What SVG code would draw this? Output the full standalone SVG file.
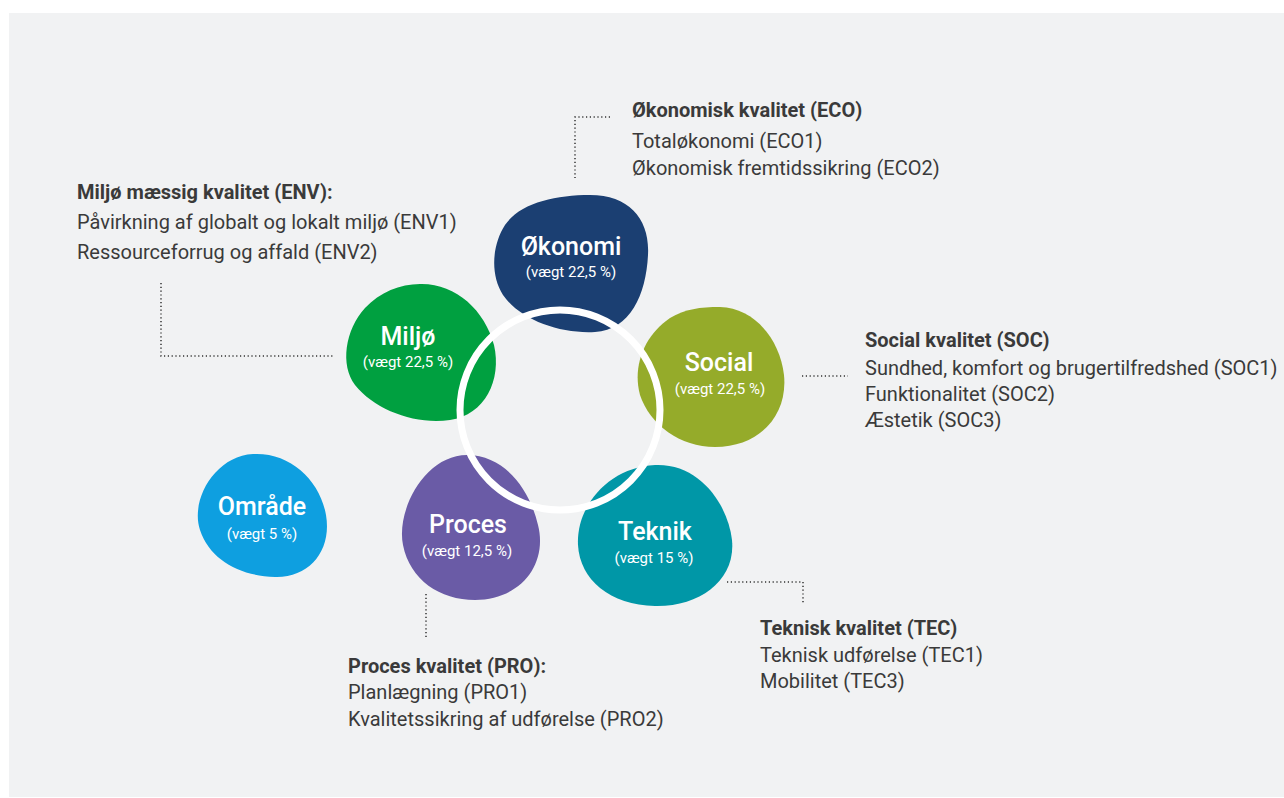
<svg xmlns="http://www.w3.org/2000/svg" width="1284" height="798" viewBox="0 0 1284 798">
<style>
.lbl{font-family:Roboto,"Noto Sans",sans-serif;fill:#ffffff;text-anchor:middle}
.big{font-size:25px;font-weight:500}
.sm{font-size:15px}
.txt{font-family:Roboto,"Noto Sans",sans-serif;font-size:20px;fill:#3a3a3a}
.b{font-weight:bold}
.dot{fill:none;stroke:#333;stroke-width:1.5;stroke-dasharray:1.2 2.6}
</style>
<rect x="0" y="0" width="1284" height="798" fill="#ffffff"/>
<rect x="9" y="13" width="1275" height="784" fill="#f1f2f3"/>
<g id="connectors">
<path class="dot" d="M610 117 H575 V178"/>
<path class="dot" d="M161 283 V356 H333"/>
<path class="dot" d="M802 376 H848"/>
<path class="dot" d="M727 582 H803 V603"/>
<path class="dot" d="M426 594 V639"/>
</g>
<g id="node-okonomi">
<path fill="#1b3f72" d="M590 195 C630 195 650 220 648 255 C646 295 630 330 595 332 C560 334 520 320 503 295 C490 275 492 245 505 225 C520 203 555 195 590 195 Z"/>
<text class="lbl big" x="571" y="255">Økonomi</text>
<text class="lbl sm" x="571" y="277">(vægt 22,5 %)</text>
</g>
<g id="node-miljo">
<path fill="#00a040" d="M420 284 C455 283 485 310 494 345 C502 380 485 415 450 420 C415 425 375 410 355 385 C340 365 345 330 365 308 C380 292 400 284 420 284 Z"/>
<text class="lbl big" x="408" y="345">Miljø</text>
<text class="lbl sm" x="408" y="367">(vægt 22,5 %)</text>
</g>
<g id="node-social">
<path fill="#95ab2a" d="M720 307 C755 308 780 340 784 375 C788 415 760 447 715 447 C680 447 650 425 640 395 C632 365 645 335 670 318 C685 309 700 307 720 307 Z"/>
<text class="lbl big" x="719" y="371">Social</text>
<text class="lbl sm" x="720" y="394">(vægt 22,5 %)</text>
</g>
<g id="node-omrade">
<path fill="#0e9fe0" d="M253 454 C290 452 320 480 326 515 C332 550 310 578 275 577 C240 576 210 560 200 530 C190 500 215 456 253 454 Z"/>
<text class="lbl big" x="262" y="515">Område</text>
<text class="lbl sm" x="262" y="539">(vægt 5 %)</text>
</g>
<g id="node-proces">
<path fill="#6a5ba6" d="M467 455 C505 455 530 490 538 525 C548 565 520 600 475 600 C440 600 410 580 403 545 C396 510 425 455 467 455 Z"/>
<text class="lbl big" x="468" y="533">Proces</text>
<text class="lbl sm" x="467" y="556">(vægt 12,5 %)</text>
</g>
<g id="node-teknik">
<path fill="#0097a7" d="M655 465 C700 463 728 505 732 540 C736 580 700 607 655 606 C610 605 580 580 578 545 C576 505 610 467 655 465 Z"/>
<text class="lbl big" x="655" y="540">Teknik</text>
<text class="lbl sm" x="654" y="563">(vægt 15 %)</text>
</g>
<g id="ring">
<circle cx="560" cy="410" r="100" fill="none" stroke="#ffffff" stroke-width="7"/>
</g>
<g id="text-eco">
<text class="txt b" x="632" y="117">Økonomisk kvalitet (ECO)</text>
<text class="txt" x="632" y="148">Totaløkonomi (ECO1)</text>
<text class="txt" x="632" y="175">Økonomisk fremtidssikring (ECO2)</text>
</g>
<g id="text-env">
<text class="txt b" x="77" y="199">Miljø mæssig kvalitet (ENV):</text>
<text class="txt" x="77" y="229">Påvirkning af globalt og lokalt miljø (ENV1)</text>
<text class="txt" x="77" y="259">Ressourceforrug og affald (ENV2)</text>
</g>
<g id="text-soc">
<text class="txt b" x="865" y="347">Social kvalitet (SOC)</text>
<text class="txt" x="865" y="375">Sundhed, komfort og brugertilfredshed (SOC1)</text>
<text class="txt" x="865" y="401">Funktionalitet (SOC2)</text>
<text class="txt" x="865" y="427">Æstetik (SOC3)</text>
</g>
<g id="text-tec">
<text class="txt b" x="760" y="635">Teknisk kvalitet (TEC)</text>
<text class="txt" x="760" y="662">Teknisk udførelse (TEC1)</text>
<text class="txt" x="760" y="688">Mobilitet (TEC3)</text>
</g>
<g id="text-pro">
<text class="txt b" x="348" y="673">Proces kvalitet (PRO):</text>
<text class="txt" x="348" y="699">Planlægning (PRO1)</text>
<text class="txt" x="348" y="726">Kvalitetssikring af udførelse (PRO2)</text>
</g>
</svg>
